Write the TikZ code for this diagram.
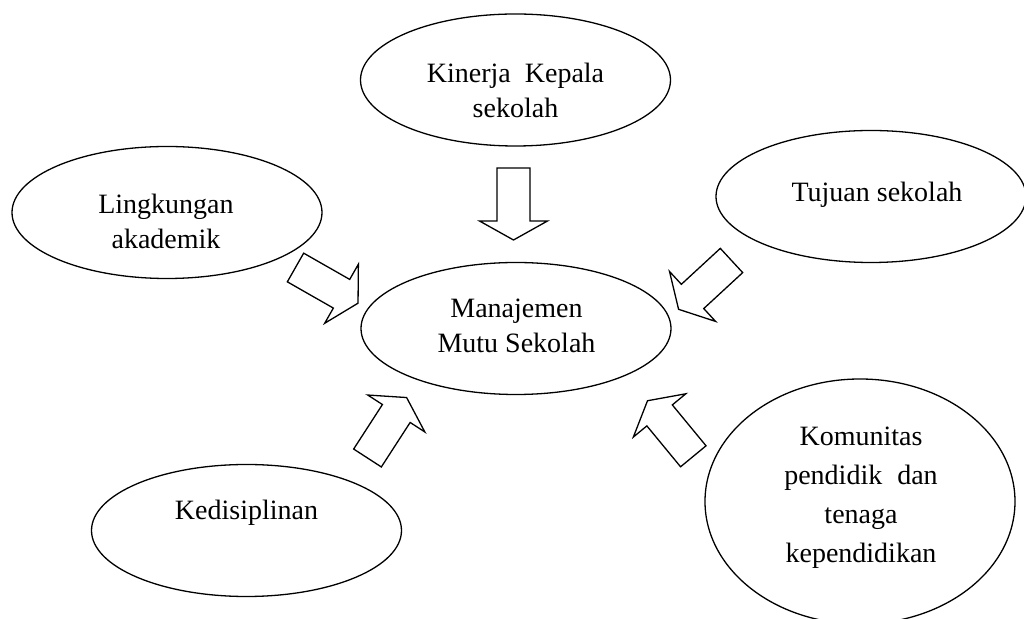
\documentclass[tikz,border=0pt]{standalone}
\usepackage{fontspec}
\setmainfont{Liberation Serif}
\usetikzlibrary{shapes.geometric}

\tikzset{
  bubble/.style={draw=black,ellipse,line width=0.65pt,fill=white,inner sep=0pt,
                 minimum width=155pt,minimum height=66pt},
  words/.style={align=center,inner sep=0pt,font=\fontsize{14}{17.5}\selectfont},
  blockarrow/.style={draw=black,line width=0.65pt,fill=white,line join=miter}
}

\begin{document}
\begin{tikzpicture}[x=0.5pt,y=-0.5pt]
    \clip (0,0) rectangle (1024,619);

    %%%% Ellipses %%%%%%%%%%%%%%%%%%%%%%%%%%%%%%%%%%%%%%%%%%%%%%%%%%%%%%%%%
    \node[bubble] (kinerja)    at (515.5,80)  {};
    \node[bubble] (lingkungan) at (167,212.5) {};
    \node[bubble] (tujuan)     at (871,196.5) {};
    \node[bubble] (mutu)       at (516,328.5) {};
    \node[bubble] (disiplin)   at (246.5,530.5) {};
    \node[bubble,minimum height=122.5pt] (komunitas) at (860,501.5) {};

    %%%% Texts %%%%%%%%%%%%%%%%%%%%%%%%%%%%%%%%%%%%%%%%%%%%%%%%%%%%%%%%%%%%
    \node[words] (kinerjaTxt)    at (515.5,90)  {Kinerja\hspace{3.5pt} Kepala\\sekolah};
    \node[words] (lingkunganTxt) at (166,221.5) {Lingkungan\\akademik};
    \node[words] (tujuanTxt)     at (877,194.5) {Tujuan sekolah};
    \node[words] (mutuTxt)       at (516.5,325.5) {Manajemen\\Mutu Sekolah};
    \node[words] (disiplinTxt)   at (246.5,513) {Kedisiplinan};
    \node[words,font=\fontsize{14}{19.5}\selectfont] (komunitasTxt) at (861,498)
         {Komunitas\\pendidik\hspace{4pt} dan\\tenaga\\kependidikan};

    %%%% Block arrows %%%%%%%%%%%%%%%%%%%%%%%%%%%%%%%%%%%%%%%%%%%%%%%%%%%%%%
    \foreach \px/\py/\ang in {513.5/168/-90, 295.5/267.5/-29.7, 731.5/260.5/-137.3,
                              367.5/458/57.1, 693.3/456.3/129.5}
      \draw[blockarrow,shift={(\px,\py)},rotate=\ang]
           (0,-16.5) -- (53,-16.5) -- (53,-34) -- (72,0)
        -- (53,34) -- (53,16.5) -- (0,16.5) -- cycle;
\end{tikzpicture}
\end{document}
